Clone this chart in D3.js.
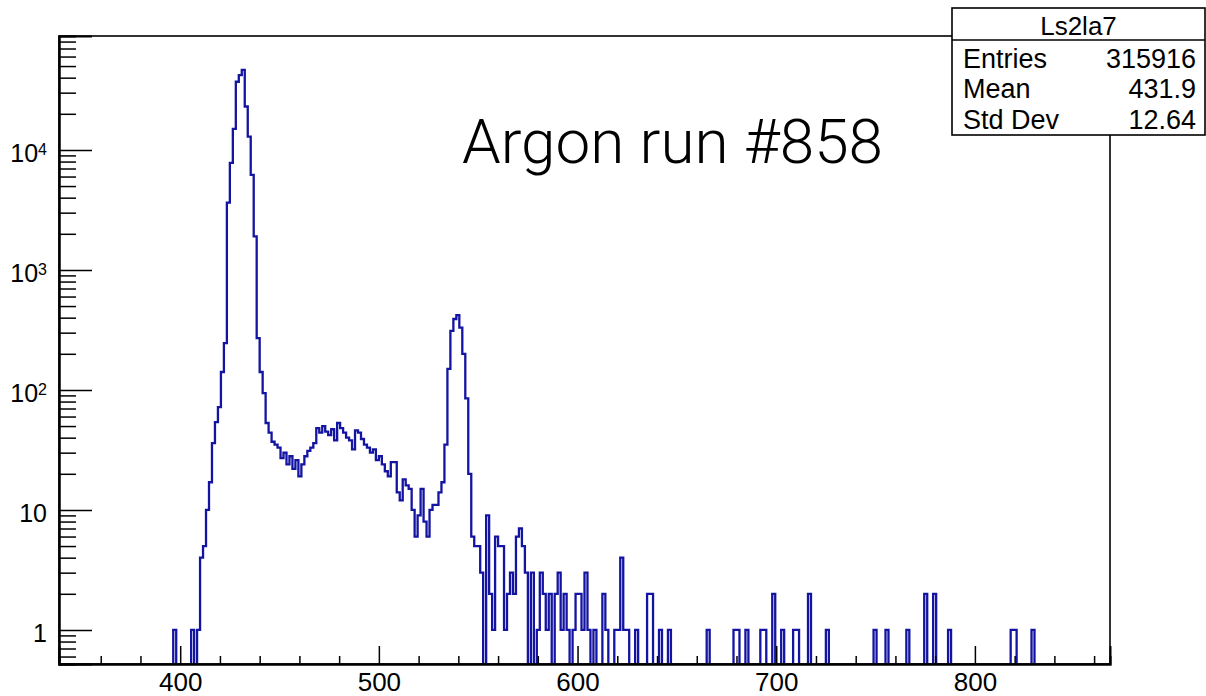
<!DOCTYPE html>
<html>
<head>
<meta charset="utf-8">
<script src="https://cdn.jsdelivr.net/npm/d3@7"></script>
<style>
  html, body { margin: 0; padding: 0; background: #fff; }
  svg { display: block; }
  .root-text { font-family: "Liberation Sans", Arial, Helvetica, sans-serif; fill: #000; }
</style>
</head>
<body>
<svg id="chart" width="1206" height="696"></svg>
<script>
// ---- Ls2la7 spectrum (bin width 1.5, first bin starts at 339.5) ----
const binLow = 339.5;
const binWidth = 1.5;
const counts = [
  0,0,0,0,0,0,0,0,0,0,
  0,0,0,0,0,0,0,0,0,0,
  0,0,0,0,0,0,0,0,0,0,
  0,0,0,0,0,0,0,0,1,0,
  0,0,0,0,1,0,1,4,5,10,
  17,36,54,72,141,245,3640,7790,15000,37000,
  42000,46500,23000,12900,6190,1900,270,141,94,53,
  44,37,35,33,27,30,24,28,22,26,
  19,24,28,31,33,36,48,44,50,45,
  42,47,38,53,48,44,40,38,32,46,
  44,39,35,33,30,32,26,28,24,21,
  19,25,25,14,12,18,16,15,10,6,
  9,15,8,6,10,11,11,14,17,35,
  150,310,390,420,330,200,85,20,6,5,
  5,3,0,9,2,1,6,5,5,1,
  2,3,2,6,7,5,3,0,3,0,
  1,3,2,1,2,0,2,3,1,2,
  1,0,1,2,2,1,3,1,0,1,
  0,0,2,1,0,0,1,1,4,1,
  1,0,0,1,0,0,0,2,2,0,
  0,1,0,0,1,0,0,0,0,0,
  0,0,0,0,0,0,0,1,0,0,
  0,0,0,0,0,0,1,1,0,0,
  1,0,0,0,0,1,1,0,0,2,
  0,0,1,0,0,0,1,1,0,0,
  0,2,0,0,0,0,0,1,0,0,
  0,0,0,0,0,0,0,0,0,0,
  0,0,0,1,0,0,0,1,0,0,
  0,0,0,0,1,0,0,0,0,0,
  2,0,0,2,0,0,0,0,1,0,
  0,0,0,0,0,0,0,0,0,0,
  0,0,0,0,0,0,0,0,0,1,
  1,0,0,0,0,0,1,0,0,0,
  0,0,0,0,0,0,0,0,0,0,
  0,0,0,0,0,0,0,0,0,0,
  0,0
];

// axis ticks and labels
const xRange = [339, 868];
const yRange = [0.52, 89000];
const xMajorTicks = [400, 500, 600, 700, 800];
const xMinorTicks = [360, 380, 420, 440, 460, 480, 520, 540, 560, 580, 620, 640, 660, 680,
                     720, 740, 760, 780, 820, 840, 860];
const yDecades = [1, 10, 100, 1000, 10000];
const yLabels = [["1", ""], ["10", ""], ["10", "2"], ["10", "3"], ["10", "4"]];

// statistics box and annotation
const statsTitle = "Ls2la7";
const statsRows = [["Entries", "315916"], ["Mean", "431.9"], ["Std Dev", "12.64"]];
const annotation = "Argon run #858";

// ---- drawing ----
const svg = d3.select("#chart");
const frame = { left: 59, right: 1110, top: 36, bottom: 664 };

const x = d3.scaleLinear().domain(xRange).range([frame.left, frame.right]);
const y = d3.scaleLog().domain(yRange).range([frame.bottom, frame.top]);

svg.append("defs").append("clipPath").attr("id", "frameClip")
  .append("rect")
  .attr("x", frame.left).attr("y", frame.top)
  .attr("width", frame.right - frame.left).attr("height", frame.bottom - frame.top);

// histogram outline: flat top on every bin, empty bins sit on the lower edge
const vertices = [[binLow, 0]];
counts.forEach((c, i) => {
  const lo = binLow + i * binWidth;
  vertices.push([lo, c], [lo + binWidth, c]);
});
vertices.push([binLow + counts.length * binWidth, 0]);

const outline = d3.line()
  .x(d => x(d[0]))
  .y(d => d[1] > 0 ? y(d[1]) : frame.bottom + 1);

svg.append("path")
  .attr("clip-path", "url(#frameClip)")
  .attr("d", outline(vertices))
  .attr("fill", "none")
  .attr("stroke", "#1414a2")
  .attr("stroke-width", 2.3)
  .attr("stroke-linejoin", "miter");

// frame
svg.append("rect")
  .attr("x", frame.left).attr("y", frame.top)
  .attr("width", frame.right - frame.left).attr("height", frame.bottom - frame.top)
  .attr("fill", "none").attr("stroke", "#000").attr("stroke-width", 1.6);

// x axis: labelled primary ticks + secondary ticks, all pointing into the frame
const xAxis = svg.append("g").attr("transform", `translate(0,${frame.bottom})`)
  .call(d3.axisBottom(x).tickValues(xMajorTicks).tickSize(-18).tickPadding(9)
        .tickFormat(d3.format("d")));
svg.append("g").attr("transform", `translate(0,${frame.bottom})`)
  .call(d3.axisBottom(x).tickValues(xMinorTicks).tickSize(-8).tickFormat(""));

// y axis: decades + 2..9 subdivisions
const yMinor = [];
for (let e = -1; e <= 4; e++) {
  for (let m = 2; m <= 9; m++) {
    const v = m * Math.pow(10, e);
    if (v >= yRange[0] && v <= yRange[1]) yMinor.push(v);
  }
}
const yAxis = svg.append("g").attr("transform", `translate(${frame.left},0)`)
  .call(d3.axisLeft(y).tickValues(yDecades).tickSize(-33).tickPadding(12).tickFormat(""));
svg.append("g").attr("transform", `translate(${frame.left},0)`)
  .call(d3.axisLeft(y).tickValues(yMinor).tickSize(-17).tickFormat(""));

svg.selectAll(".domain").attr("stroke", "#000").attr("stroke-width", 2);
svg.selectAll(".tick line").attr("stroke", "#000").attr("stroke-width", 1.5);

xAxis.selectAll(".tick text")
  .attr("class", "root-text")
  .style("font-size", "26px");

yAxis.selectAll(".tick text").each(function (d, i) {
  const t = d3.select(this)
    .attr("class", "root-text")
    .attr("dy", "0.45em")
    .style("font-size", "25px");
  const [base, exp] = yLabels[i];
  t.text(null);
  t.append("tspan").text(base);
  if (exp) {
    t.append("tspan").attr("dy", "-0.42em").style("font-size", "16px").text(exp);
  }
});
svg.selectAll(".tick text").attr("fill", "#000");
d3.selectAll("g").attr("font-family", null).attr("font-size", null);

// statistics box
const box = { left: 952, top: 8, right: 1205, bottom: 135, titleLine: 40 };
const stats = svg.append("g");
stats.append("rect")
  .attr("x", box.left).attr("y", box.top)
  .attr("width", box.right - box.left).attr("height", box.bottom - box.top)
  .attr("fill", "#fff").attr("stroke", "#000").attr("stroke-width", 1.6);
stats.append("line")
  .attr("x1", box.left).attr("x2", box.right)
  .attr("y1", box.titleLine).attr("y2", box.titleLine)
  .attr("stroke", "#000").attr("stroke-width", 1.6);
stats.append("text").attr("class", "root-text")
  .attr("x", (box.left + box.right) / 2).attr("y", 35)
  .attr("text-anchor", "middle").style("font-size", "26px")
  .text(statsTitle);
const rowBase = [68, 98, 129];
statsRows.forEach(([label, value], i) => {
  stats.append("text").attr("class", "root-text")
    .attr("x", 963).attr("y", rowBase[i])
    .style("font-size", "27px").text(label);
  stats.append("text").attr("class", "root-text")
    .attr("x", 1196).attr("y", rowBase[i])
    .attr("text-anchor", "end").style("font-size", "27px").text(value);
});

// run annotation
svg.append("text")
  .attr("x", 462).attr("y", 163)
  .attr("textLength", 421).attr("lengthAdjust", "spacingAndGlyphs")
  .style("font-family", "'Helvetica Neue', Roboto, 'Open Sans', sans-serif")
  .style("font-weight", 300)
  .style("font-size", "62px")
  .attr("fill", "#000")
  .text(annotation);
</script>
</body>
</html>
